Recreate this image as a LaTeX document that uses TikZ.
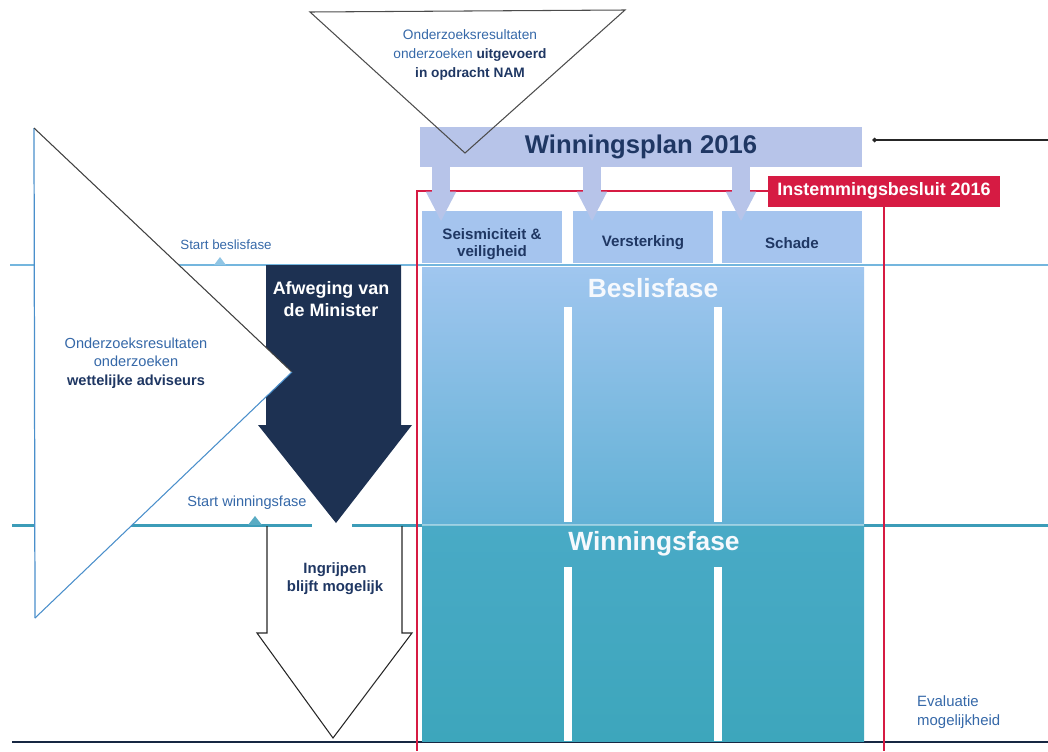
\documentclass[tikz,border=0pt]{standalone}
\usepackage{fontspec}
\setmainfont{Liberation Sans}
\usetikzlibrary{arrows.meta, positioning}
\definecolor{Plan}{HTML}{B7C4E9}
\definecolor{Header}{HTML}{A5C4EE}
\definecolor{BeslisTop}{HTML}{A0C6EF}
\definecolor{BeslisBottom}{HTML}{62B1D5}
\definecolor{WinTop}{HTML}{49AAC6}
\definecolor{WinBottom}{HTML}{3DA6BC}
\definecolor{Navy}{HTML}{1D3152}
\definecolor{Ink}{HTML}{1F3763}
\definecolor{Signal}{HTML}{D61B43}
\definecolor{BeslisLine}{HTML}{74B6DE}
\definecolor{WinLine}{HTML}{3C9CB8}
\definecolor{Research}{HTML}{3568A8}
\definecolor{Edge}{HTML}{4A8FCB}
\tikzset{
    headbox/.style={rectangle, fill=Header, text=Ink, align=center, minimum width=2.8cm, minimum height=1.04cm, inner sep=0pt, font=\bfseries\fontsize{8.6}{9.8}\selectfont},
    planbar/.style={rectangle, fill=Plan, text=Ink, minimum width=8.84cm, minimum height=0.8cm, font=\bfseries\fontsize{14.6}{16}\selectfont},
    redlabel/.style={rectangle, fill=Signal, text=white, minimum width=4.64cm, minimum height=0.62cm, inner sep=0pt, font=\bfseries\fontsize{10.2}{12}\selectfont},
    phasetext/.style={text=white!90!Header, font=\bfseries\fontsize{15}{18}\selectfont},
    research/.style={text=Ink, align=center, font=\fontsize{8}{11}\selectfont},
    marker/.style={text=Research, font=\fontsize{7.6}{9}\selectfont},
    feed/.style={Plan, line width=0.36cm, -{Triangle[width=0.56cm, length=0.6cm]}},
    frame/.style={Signal, line width=0.8pt},
    beslisline/.style={BeslisLine, line width=1.1pt},
    winline/.style={WinLine, line width=1.7pt},
    groundline/.style={Navy!80!black, line width=1pt},
}

\begin{document}
\begin{tikzpicture}[x=0.02cm, y=-0.02cm]
    \useasboundingbox (0,0) rectangle (1048,751);

    % --- 1. FASE LIJNEN ---
    \draw[beslisline] (10,265) -- (1048,265);
    \draw[winline] (12,525) -- (312,525);
    \draw[winline] (352,525) -- (1048,525);
    \draw[groundline] (12,742) -- (1048,742);
    \fill[BeslisLine!80] (214,265) -- (220,257) -- (226,265) -- cycle;
    \fill[WinLine!85!white] (248,525) -- (255,516) -- (262,525) -- cycle;

    % --- 2. PANEEL ---
    \shade[top color=BeslisTop, bottom color=BeslisBottom] (422,267) rectangle (864,525);
    \shade[top color=WinTop, bottom color=WinBottom] (422,525) rectangle (864,741);
    \draw[white, opacity=0.4, line width=0.6pt] (422,525) -- (864,525);
    \foreach \sx in {568,718} {
        \fill[white] ({\sx-4},307) rectangle ({\sx+4},522);
        \fill[white] ({\sx-4},567) rectangle ({\sx+4},741);
    }
    \node[phasetext] (beslis) at (653,288) {Beslisfase};
    \node[phasetext] (winning) at (654,544) {Winningsfase};

    % Kolommen
    \node[headbox] (seis) at (492,237) {\rule{0pt}{1.7em}Seismiciteit \&\\veiligheid};
    \node[headbox] (verst) at (643,237) {\rule{0pt}{1.5em}Versterking};
    \node[headbox] (schade) at (792,237) {\rule{0pt}{1.5em}Schade};

    % --- 3. INSTEMMINGSBESLUIT ---
    \node[redlabel] (besluit) at (884,191) {Instemmingsbesluit 2016};
    \draw[frame] (besluit.west) -| (417,751);
    \draw[frame] (besluit.south) -- (besluit.south |- 0,751);

    % --- 4. WINNINGSPLAN ---
    \node[planbar] (plan) at (641,147) {Winningsplan 2016};
    \foreach \col in {seis, verst, schade}
        \draw[feed] ([xshift=-1.02cm]\col.north |- plan.south) -- ([xshift=-1.02cm, yshift=-0.22cm]\col.north);
    \coordinate (margin) at (1048,140);
    \draw[black!85, line width=0.7pt, {Circle[length=0.09cm]}-] ([xshift=0.2cm]plan.east |- margin) -- (margin);

    % --- 5. MINISTER ---
    \fill[Navy] (266,265) -- (401,265) -- (401,425) -- (412,425) -- (336,523) -- (258,425) -- (266,425) -- cycle;
    \node[text=white, align=center, font=\bfseries\fontsize{10.2}{12.5}\selectfont] (afweging) at (331,299) {Afweging van\\de Minister};
    \draw[black!85, line width=0.6pt] (267,526) -- (267,633) -- (257,633) -- (333,738) -- (412,633) -- (402,633) -- (402,526);
    \node[text=Ink, align=center, font=\bfseries\fontsize{8.5}{10.2}\selectfont] (ingrijpen) at (335,579) {Ingrijpen\\blijft mogelijk};

    % --- 6. WETTELIJKE ADVISEURS ---
    \fill[white] (34,128) -- (292,372) -- (35,618) -- cycle;
    \draw[Edge, line width=0.7pt] (35,618) -- (34,128);
    \draw[black!75, line width=0.6pt] (34,128) -- (292,372);
    \draw[Edge, line width=0.6pt] (292,372) -- (35,618);
    \node[research, font=\fontsize{8.3}{10.5}\selectfont] (advies) at (136,363)
        {{\color{Research}Onderzoeksresultaten}\\{\color{Research}onderzoeken}\\\textbf{wettelijke adviseurs}};

    \node[marker] (startbeslis) at (226,245) {Start beslisfase};
    \node[marker, font=\fontsize{8.3}{10}\selectfont] (startwin) at (247,503) {Start winningsfase};
    \node[text=Research, align=left, anchor=west, font=\fontsize{8.5}{10.8}\selectfont] (evaluatie) at (911,712) {Evaluatie\\mogelijkheid};

    % --- 7. NAM ---
    \draw[black!70, line width=0.6pt] (310,12) -- (625,10) -- (465,153) -- cycle;
    \node[research, font=\fontsize{7.8}{11}\selectfont] (nam) at (470,55)
        {{\color{Research}Onderzoeksresultaten}\\{\color{Research}onderzoeken} \textbf{uitgevoerd}\\\textbf{in opdracht NAM}};
\end{tikzpicture}
\end{document}
